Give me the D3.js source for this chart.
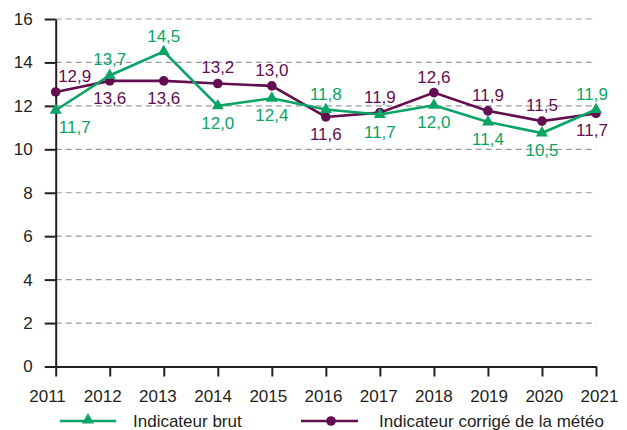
<!DOCTYPE html>
<html>
<head>
<meta charset="utf-8">
<script src="https://cdn.jsdelivr.net/npm/d3@7"></script>
<style>
  body { margin: 0; background: #fff; }
  text { font-family: "Liberation Sans", Arial, sans-serif; }
</style>
</head>
<body>
<div id="chart"></div>
<script>
var svgWidth = 627;
var svgHeight = 430;

// data
var years = [2011, 2012, 2013, 2014, 2015, 2016, 2017, 2018, 2019, 2020, 2021];
var brutValues = [11.8, 13.4, 14.5, 12.0, 12.35, 11.83, 11.6, 12.03, 11.26, 10.75, 11.83];
var brutLabels = ["11,7", "13,7", "14,5", "12,0", "12,4", "11,8", "11,7", "12,0", "11,4", "10,5", "11,9"];
var corrValues = [12.64, 13.15, 13.15, 13.03, 12.92, 11.49, 11.69, 12.61, 11.77, 11.3, 11.65];
var corrLabels = ["12,9", "13,6", "13,6", "13,2", "13,0", "11,6", "11,9", "12,6", "11,9", "11,5", "11,7"];
var yTicks = [0, 2, 4, 6, 8, 10, 12, 14, 16];
var legendNames = ["Indicateur brut", "Indicateur corrigé de la météo"];

var green = "#0aa464";
var purple = "#620e50";
var ink = "#231f20";

var svg = d3.select("#chart")
  .append("svg")
  .attr("width", svgWidth)
  .attr("height", svgHeight);

var xScale = d3.scaleLinear().domain([2011, 2021]).range([55.7, 596]);
var xLabelScale = d3.scaleLinear().domain([2011, 2021]).range([47, 599]);
var yScale = d3.scaleLinear().domain([0, 16]).range([366.5, 19]);

// dashed gridlines
svg.append("g")
  .selectAll("line")
  .data(yTicks.filter(d => d > 0))
  .enter()
  .append("line")
  .attr("x1", xScale(2011))
  .attr("x2", xScale(2021))
  .attr("y1", d => yScale(d))
  .attr("y2", d => yScale(d))
  .attr("stroke", "#9a9a9a")
  .attr("stroke-width", 1.2)
  .attr("stroke-dasharray", "6,4");

// y axis
var leftAxis = d3.axisLeft(yScale)
  .tickValues(yTicks)
  .tickSize(11)
  .tickPadding(12)
  .tickSizeOuter(0);

var yAxis = svg.append("g")
  .attr("transform", `translate(${xScale(2011)},0)`)
  .call(leftAxis);
yAxis.select(".domain").attr("stroke", ink).attr("stroke-width", 2);
yAxis.selectAll(".tick line").attr("stroke", ink).attr("stroke-width", 2);
yAxis.selectAll("text").attr("font-size", "17px").attr("fill", ink)
  .style("font-family", "Liberation Sans, Arial, sans-serif");

// x axis
var bottomAxis = d3.axisBottom(xScale)
  .tickValues(years)
  .tickFormat(d3.format("d"))
  .tickSize(10)
  .tickPadding(13)
  .tickSizeOuter(0);

var xAxis = svg.append("g")
  .attr("transform", `translate(0,${yScale(0)})`)
  .call(bottomAxis);
xAxis.select(".domain").attr("stroke", ink).attr("stroke-width", 2);
xAxis.selectAll(".tick line").attr("stroke", ink).attr("stroke-width", 2);
xAxis.selectAll("text")
  .attr("font-size", "17px")
  .attr("fill", ink)
  .style("font-family", "Liberation Sans, Arial, sans-serif")
  .attr("x", d => xLabelScale(d) - xScale(d));

var line = d3.line()
  .x((d, i) => xScale(years[i]))
  .y(d => yScale(d));

var triangle = d3.symbol().type(d3.symbolTriangle).size(62);

// purple: corrected indicator
svg.append("path")
  .datum(corrValues)
  .attr("d", line)
  .attr("fill", "none")
  .attr("stroke", purple)
  .attr("stroke-width", 2.6);

svg.selectAll(".dot")
  .data(corrValues)
  .enter()
  .append("circle")
  .attr("cx", (d, i) => xScale(years[i]))
  .attr("cy", d => yScale(d))
  .attr("r", 4.8)
  .attr("fill", purple);

// green: raw indicator
svg.append("path")
  .datum(brutValues)
  .attr("d", line)
  .attr("fill", "none")
  .attr("stroke", green)
  .attr("stroke-width", 2.6);

svg.selectAll(".tri")
  .data(brutValues)
  .enter()
  .append("path")
  .attr("d", triangle)
  .attr("transform", (d, i) => `translate(${xScale(years[i])},${yScale(d)})`)
  .attr("fill", green);

// value labels: higher series above, lower series below
function labelX(i) {
  if (i === 0) return xScale(years[i]) + 19;
  if (i === years.length - 1) return xScale(years[i]) - 4;
  return xScale(years[i]);
}

function drawLabels(values, labels, other, color) {
  svg.append("g")
    .selectAll("text")
    .data(values)
    .enter()
    .append("text")
    .attr("x", (d, i) => labelX(i))
    .attr("y", (d, i) => d >= other[i] ? yScale(d) - 16 : yScale(d) + 17)
    .attr("dy", "0.35em")
    .attr("text-anchor", "middle")
    .attr("font-size", "17px")
    .attr("fill", color)
    .text((d, i) => labels[i]);
}

drawLabels(corrValues, corrLabels, brutValues, purple);
drawLabels(brutValues, brutLabels, corrValues, green);

// legend
var legend = svg.append("g");

legend.append("line")
  .attr("x1", 60).attr("x2", 116)
  .attr("y1", 421).attr("y2", 421)
  .attr("stroke", green).attr("stroke-width", 2.6);
legend.append("path")
  .attr("d", triangle)
  .attr("transform", "translate(88,420)")
  .attr("fill", green);
legend.append("text")
  .attr("x", 133).attr("y", 421)
  .attr("dy", "0.35em")
  .attr("font-size", "17px")
  .attr("fill", ink)
  .text(legendNames[0]);

legend.append("line")
  .attr("x1", 301).attr("x2", 358)
  .attr("y1", 421).attr("y2", 421)
  .attr("stroke", purple).attr("stroke-width", 2.6);
legend.append("circle")
  .attr("cx", 331).attr("cy", 421)
  .attr("r", 4.8)
  .attr("fill", purple);
legend.append("text")
  .attr("x", 379).attr("y", 421)
  .attr("dy", "0.35em")
  .attr("font-size", "17px")
  .attr("fill", ink)
  .text(legendNames[1]);
</script>
</body>
</html>
